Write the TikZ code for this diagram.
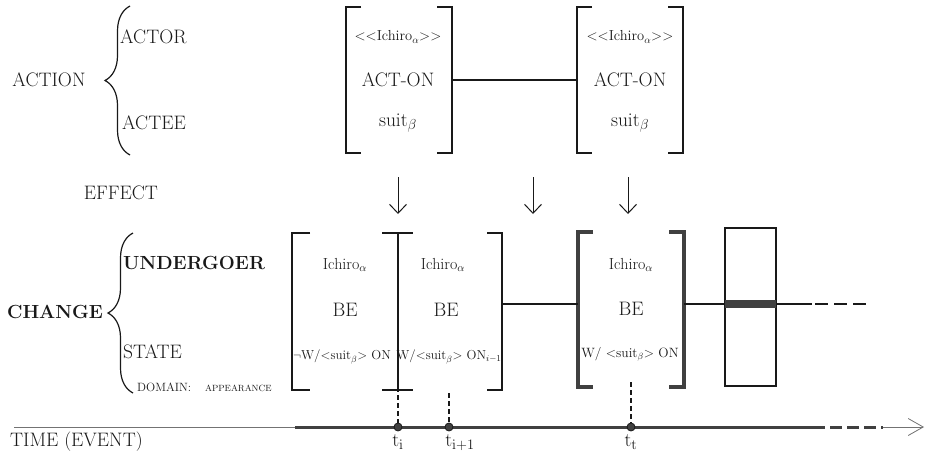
\documentclass[tikz,border=0pt]{standalone}
\usetikzlibrary{arrows.meta,decorations.pathreplacing}
\definecolor{ink}{gray}{0.1}
\definecolor{heavy}{gray}{0.25}
\definecolor{thin}{gray}{0.45}

% square brackets on both sides of a named node
\newcommand{\sqbrackets}[3][]{%
  \draw[#1] ([xshift=#3]#2.north west) -- (#2.north west) -- (#2.south west) -- ([xshift=#3]#2.south west);
  \draw[#1] ([xshift=-#3]#2.north east) -- (#2.north east) -- (#2.south east) -- ([xshift=-#3]#2.south east);}

\tikzset{
  frame/.style={inner sep=0pt, outer sep=0pt},
  lbl/.style={font=\fontsize{19.5}{22}\selectfont, inner sep=0pt, text=ink},
  boldlbl/.style={font=\fontsize{19}{22}\selectfont\bfseries, inner sep=0pt, text=ink},
  small/.style={font=\fontsize{14.5}{16}\selectfont, inner sep=0pt, text=ink},
  slot/.style={font=\fontsize{16}{18}\selectfont, inner sep=0pt, text=ink},
  big/.style={font=\fontsize{19.5}{22}\selectfont, inner sep=0pt, text=ink},
  cond/.style={font=\fontsize{13}{15}\selectfont, inner sep=0pt, text=ink},
  bracketline/.style={draw=ink, line width=1.3pt},
  heavybracket/.style={draw=heavy, line width=3.2pt},
  link/.style={draw=ink, line width=1.3pt},
  effect/.style={draw=ink, line width=1pt, -{Straight Barb[length=9pt,width=17pt,line width=1pt]}},
  timeline/.style={draw=heavy, line width=3pt},
  tick/.style={draw=ink, line width=1.4pt, dash pattern=on 5pt off 3pt},
  instant/.style={circle, fill=heavy, draw=ink, line width=0.8pt, minimum size=8pt, inner sep=0pt},
  brace/.style={draw=ink, line width=1.2pt, decorate, decoration={brace, amplitude=25pt}},
}

\begin{document}
\begin{tikzpicture}[x=1pt, y=-1pt]
\useasboundingbox (0,0) rectangle (928,461);
\fill[white] (0,0) rectangle (928,461);

% ---------- ACTION tier ----------
\node[lbl] (action) at (49,80) {ACTION};
\coordinate (abtop) at (130,6);
\coordinate (abbot) at (130,155);
\draw[brace] (abbot) -- (abtop);
\node[lbl, anchor=west] (actor) at (120,37) {ACTOR};
\node[lbl, anchor=west] (actee) at (122,123) {ACTEE};
\node[lbl] (effectlbl) at (121,193) {EFFECT};

\node[frame, minimum width=106pt, minimum height=146pt] (act1) at (399,80) {};
\node[frame, minimum width=106pt, minimum height=146pt] (act2) at (630,80) {};
\sqbrackets[bracketline]{act1}{15pt}
\sqbrackets[bracketline]{act2}{15pt}
\draw[link] (act1.east) -- (act2.west);

\foreach \n/\x in {a/398, b/630}{
  \node[small] (ag\n) at (\x,37) {{<}{<}Ichiro$_\alpha${>}{>}};
  \node[big] (act\n) at (\x,80) {ACT-ON};
  \node[big] (ob\n) at (\x,123) {suit$_\beta$};
}

% effect arrows
\coordinate (e1s) at (398,177); \coordinate (e1e) at (398,214);
\coordinate (e2s) at (533,177); \coordinate (e2e) at (533,214);
\coordinate (e3s) at (628,177); \coordinate (e3e) at (628,214);
\draw[effect] (e1s) -- (e1e);
\draw[effect] (e2s) -- (e2e);
\draw[effect] (e3s) -- (e3e);

% ---------- CHANGE tier ----------
\node[boldlbl] (change) at (55,312) {CHANGE};
\coordinate (cbtop) at (133,233);
\coordinate (cbbot) at (133,393);
\draw[brace] (cbbot) -- (cbtop);
\node[boldlbl, anchor=west] (undergoer) at (123,263) {UNDERGOER};
\node[lbl, anchor=west] (state) at (123,352) {STATE};
\node[font=\fontsize{12}{14}\selectfont, inner sep=0pt, text=ink, anchor=west] (domain) at (137,387) {DOMAIN:};
\node[font=\fontsize{9}{11}\selectfont, inner sep=0pt, text=ink, anchor=west] (domval) at (205,388) {APPEARANCE};

% two adjacent states sharing a boundary
\node[frame, minimum width=106pt, minimum height=157pt] (st1) at (345,311.5) {};
\node[frame, minimum width=104pt, minimum height=157pt] (st2) at (450,311.5) {};
\draw[bracketline] ([xshift=18pt]st1.north west) -- (st1.north west) -- (st1.south west) -- ([xshift=18pt]st1.south west);
\draw[bracketline] ([xshift=-15pt]st2.north east) -- (st2.north east) -- (st2.south east) -- ([xshift=-15pt]st2.south east);
\draw[bracketline] (st1.north east) -- (st1.south east);
\draw[bracketline] ([xshift=-16pt]st1.north east) -- ([xshift=15pt]st1.north east);
\draw[draw=ink, line width=2.4pt] ([xshift=-16pt]st1.south east) -- ([xshift=15pt]st1.south east);

% resulting state
\node[frame, minimum width=106pt, minimum height=155pt] (st3) at (631,309.5) {};
\sqbrackets[heavybracket]{st3}{15pt}

% later states
\node[frame, draw=ink, line width=1.5pt, minimum width=51pt, minimum height=158pt] (st4) at (750.5,307) {};
\fill[heavy] (st4.west |- 0,300) rectangle (st4.east |- 0,308);
\coordinate (contA) at (812,304);
\coordinate (contB) at (815,304);
\coordinate (contC) at (866,304);

\draw[link] (st2.east |- 0,304) -- (st3.west |- 0,304);
\draw[link] (st3.east |- 0,304) -- (st4.west |- 0,304);
\draw[link] (st4.east |- 0,304) -- (contA);
\draw[link, dash pattern=on 13pt off 6pt] (contB) -- (contC);

\node[slot] (und1) at (345,265) {Ichiro$_\alpha$};
\node[big] (be1) at (345,310) {BE};
\node[cond] (res1) at (342,357) {$\neg$W/{<}suit$_\beta${>} ON};
\node[slot] (und2) at (443,265) {Ichiro$_\alpha$};
\node[big] (be2) at (446,310) {BE};
\node[cond] (res2) at (449,357) {W/{<}suit$_\beta${>} ON$_{i-1}$};
\node[slot] (und3) at (631,265) {Ichiro$_\alpha$};
\node[big] (be3) at (631,309) {BE};
\node[cond, font=\fontsize{13.5}{16}\selectfont] (res3) at (630,354) {W/ {<}suit$_\beta${>} ON};

% ---------- time axis ----------
\node[lbl, anchor=west] (time) at (10,442) {TIME (EVENT)};
\coordinate (t0) at (14,427);
\coordinate (t1) at (295,427);
\coordinate (t2) at (813,427);
\coordinate (t3) at (883,427);
\coordinate (t4) at (924,427);
\draw[draw=thin, line width=0.8pt] (t0) -- (t1);
\draw[timeline] (t1) -- (t2);
\draw[timeline, dash pattern=on 12pt off 5pt] (t2) -- (t3);
\draw[draw=thin, line width=0.8pt, -{Straight Barb[length=15pt,width=17pt,line width=0.8pt]}] (t3) -- (t4);

\node[instant] (ti) at (398,427) {};
\node[instant] (tj) at (449,427) {};
\node[instant] (tt) at (631,427) {};
\draw[tick] (st1.south east) ++(0,3pt) -- (ti.north);
\draw[tick] (449,393) -- (tj.north);
\draw[tick] (st3.south) ++(0,5pt) -- (tt.north);

\node[lbl, anchor=north] at (398,434) {t$_{\mathrm{i}}$};
\node[lbl, anchor=north] at (460,434) {t$_{\mathrm{i+1}}$};
\node[lbl, anchor=north] at (631,434) {t$_{\mathrm{t}}$};
\end{tikzpicture}
\end{document}
